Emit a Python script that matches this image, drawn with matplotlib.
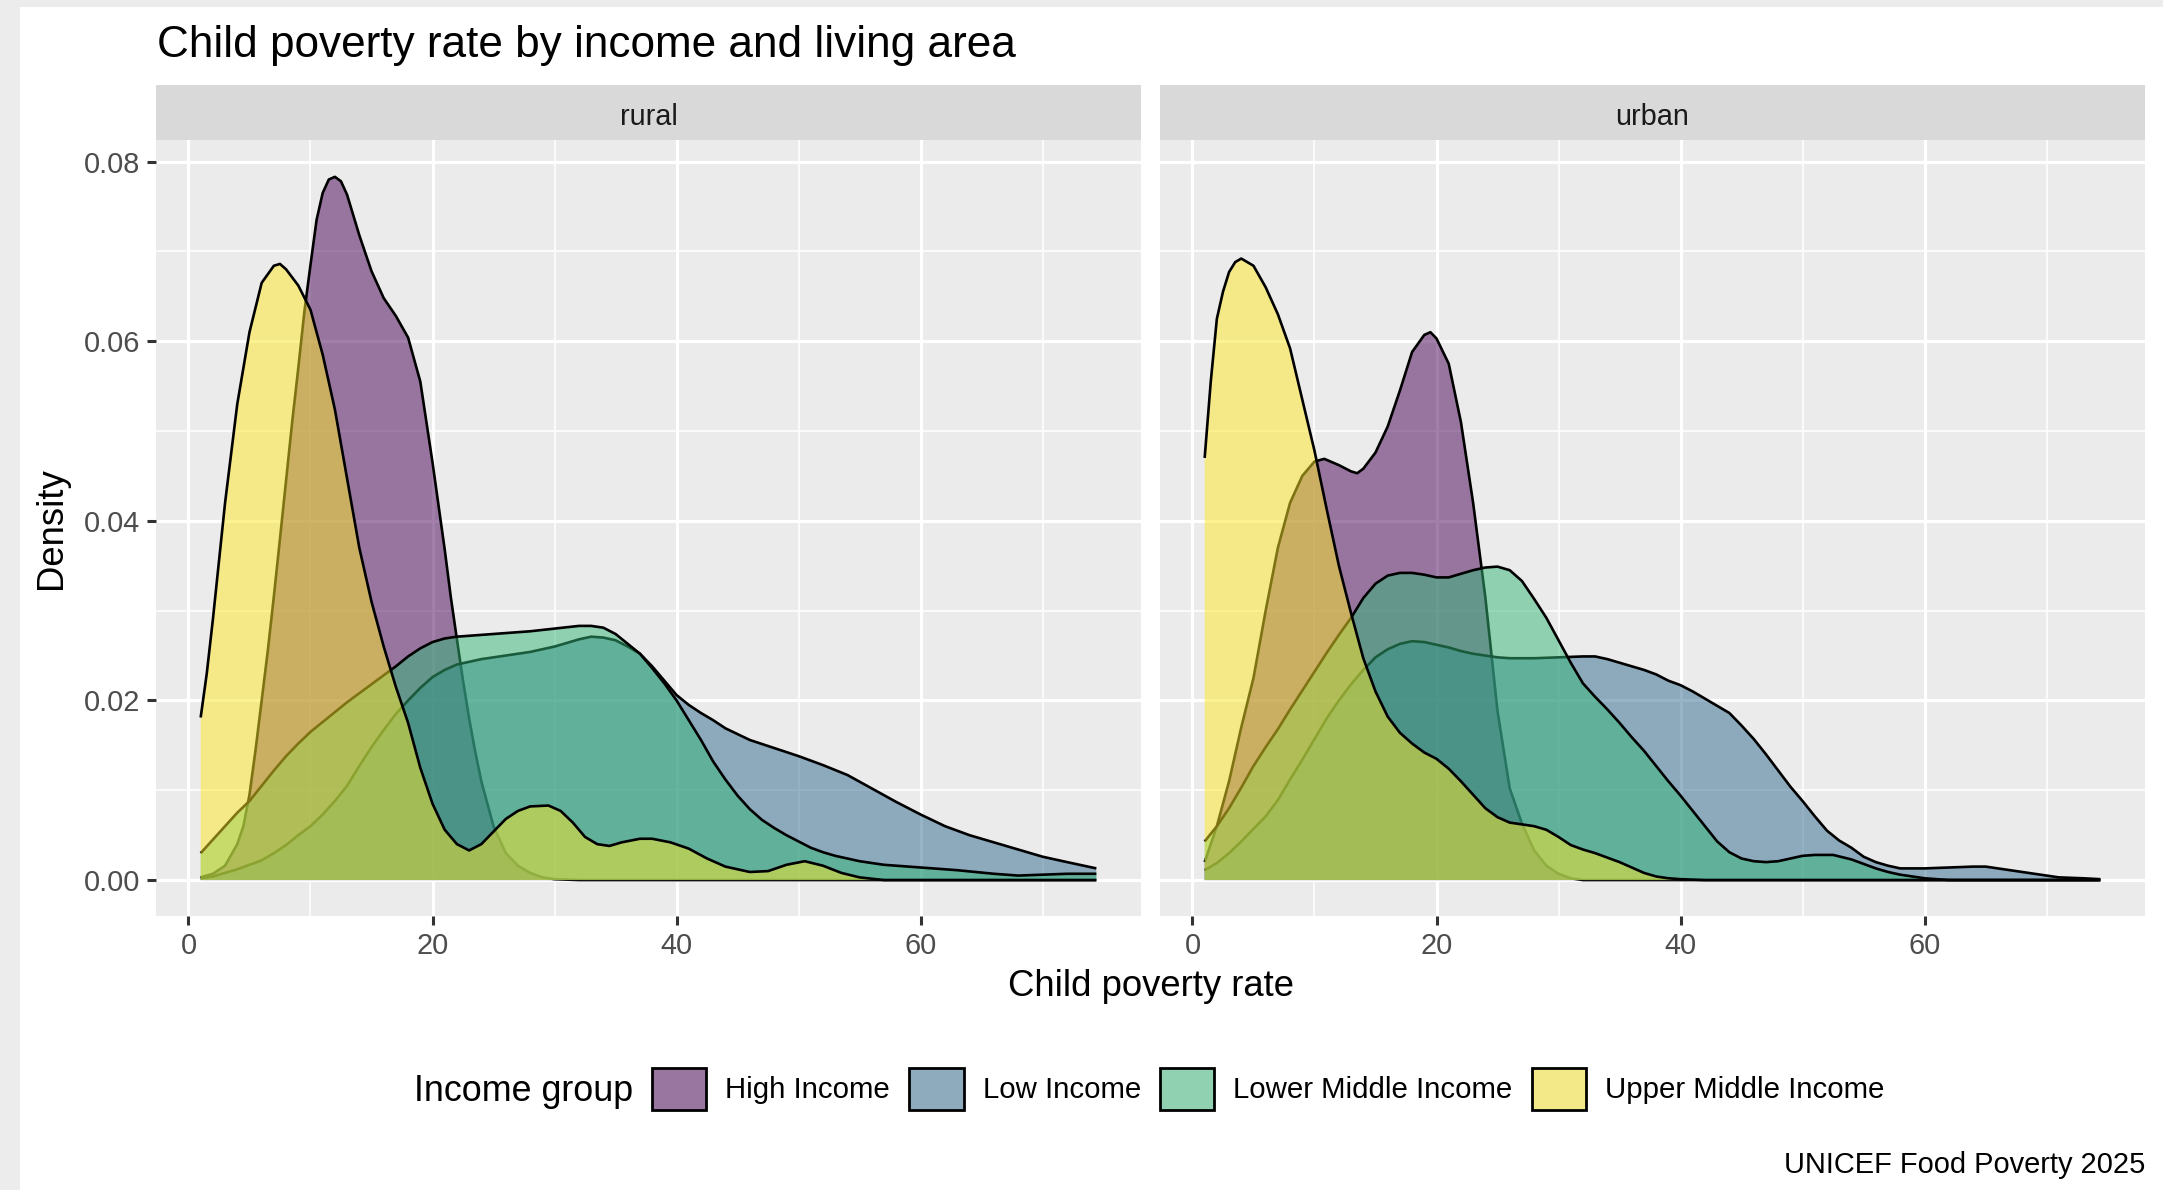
import numpy as np
import matplotlib
matplotlib.use('Agg')
import matplotlib.pyplot as plt
from matplotlib.patches import Patch, Rectangle
import matplotlib.colors as mcolors

plt.rcParams['font.family'] = ['Liberation Sans', 'DejaVu Sans']

# ---------------- data (density values) ----------------
groups = ['High Income', 'Low Income', 'Lower Middle Income', 'Upper Middle Income']
areas = ['rural', 'urban']
colors = ['#440154', '#31688E', '#35B779', '#FDE725']

rural_high_x = [1, 2, 3, 4, 4.5, 5, 5.5, 6, 6.5, 7, 7.5, 8, 8.5, 9, 9.5, 10, 10.5, 11, 11.5, 12,
                12.5, 13, 14, 15, 16, 17, 18, 19, 20, 21, 21.5, 22, 22.5, 23, 23.5, 24, 25, 26,
                27, 28, 29, 30, 32, 74.4]
rural_high_y = [0.0003, 0.0007, 0.0016, 0.0040, 0.006, 0.0095, 0.0145, 0.020, 0.0255, 0.0316,
                0.038, 0.0445, 0.051, 0.057, 0.0633, 0.0685, 0.0735, 0.0765, 0.078, 0.0783,
                0.0778, 0.0763, 0.0718, 0.0678, 0.0648, 0.0628, 0.0604, 0.0555, 0.0465, 0.0368,
                0.0315, 0.0268, 0.0222, 0.018, 0.0143, 0.011, 0.006, 0.003, 0.0016, 0.0008,
                0.0003, 0.0001, 0.0, 0.0]

rural_low_x = [1, 2, 3, 4, 5, 6, 7, 8, 9, 10, 11, 12, 13, 14, 15, 16, 17, 18, 19, 20, 21, 22,
               24, 26, 28, 30, 32, 33, 34, 35, 36, 37, 38, 39, 40, 41, 42, 43, 44, 46, 48, 50,
               52, 54, 56, 58, 60, 62, 64, 66, 68, 70, 72, 74.4]
rural_low_y = [0.0002, 0.0004, 0.0008, 0.0012, 0.0017, 0.0022, 0.003, 0.0039, 0.005, 0.006,
               0.0073, 0.0088, 0.0105, 0.0127, 0.0148, 0.0167, 0.0185, 0.020, 0.0214, 0.0226,
               0.0234, 0.024, 0.0246, 0.025, 0.0254, 0.026, 0.0268, 0.0271, 0.027, 0.0267,
               0.026, 0.0252, 0.0238, 0.0222, 0.0206, 0.0195, 0.0186, 0.0178, 0.0169, 0.0156,
               0.0147, 0.0138, 0.0128, 0.0117, 0.0102, 0.0087, 0.0073, 0.006, 0.005, 0.0042,
               0.0034, 0.0026, 0.002, 0.0013]

rural_lmid_x = [1, 2, 3, 4, 5, 6, 7, 8, 9, 10, 11, 12, 13, 14, 15, 16, 17, 18, 19, 20, 21, 22,
                24, 26, 28, 30, 32, 33, 34, 35, 36, 37, 38, 39, 40, 41, 42, 43, 44, 45, 46, 47,
                48, 49, 50, 51, 52, 53, 55, 57, 60, 63, 66, 68, 70, 72, 74.4]
rural_lmid_y = [0.003, 0.0045, 0.006, 0.0075, 0.0088, 0.0105, 0.0122, 0.0138, 0.0152, 0.0165,
                0.0176, 0.0187, 0.0198, 0.0208, 0.0218, 0.0228, 0.0238, 0.0249, 0.0258, 0.0265,
                0.0269, 0.0271, 0.0273, 0.0275, 0.0277, 0.028, 0.0283, 0.0283, 0.0281, 0.0274,
                0.0263, 0.0252, 0.0236, 0.0219, 0.0200, 0.0178, 0.0156, 0.0132, 0.0112, 0.0094,
                0.0079, 0.0067, 0.0058, 0.0050, 0.0043, 0.0036, 0.0031, 0.0027, 0.0021, 0.0017,
                0.0014, 0.0011, 0.0007, 0.0005, 0.0006, 0.0007, 0.0007]

rural_umid_x = [1, 1.5, 2, 3, 4, 5, 6, 7, 7.5, 8, 9, 10, 11, 12, 13, 14, 15, 16, 17, 18, 19, 20,
                21, 22, 23, 24, 25, 26, 27, 28, 29.5, 30.5, 31.5, 32.5, 33.5, 34.5, 35.5, 37,
                38, 39.5, 41, 42.5, 44, 46, 47.5, 49, 50.5, 52, 53.5, 55, 57, 74.4]
rural_umid_y = [0.0181, 0.023, 0.029, 0.042, 0.053, 0.061, 0.0665, 0.0684, 0.0686, 0.068,
                0.0662, 0.0635, 0.0585, 0.0524, 0.0447, 0.037, 0.031, 0.026, 0.0215, 0.0175,
                0.0125, 0.0085, 0.0056, 0.0040, 0.0033, 0.0040, 0.0054, 0.0068, 0.0077, 0.0082,
                0.0083, 0.0077, 0.0064, 0.0048, 0.0040, 0.0038, 0.0042, 0.0046, 0.0046, 0.0042,
                0.0035, 0.0024, 0.0015, 0.0009, 0.0010, 0.0017, 0.0021, 0.0016, 0.0008, 0.0003,
                0.0, 0.0]

urban_high_x = [1, 2, 3, 4, 5, 6, 7, 8, 9, 10, 10.8, 12, 13, 13.5, 14, 15, 16, 17, 18, 19, 19.5,
                20, 21, 22, 23, 24, 25, 26, 27, 28, 29, 30, 31, 32, 74.4]
urban_high_y = [0.002, 0.006, 0.011, 0.017, 0.0225, 0.030, 0.037, 0.042, 0.045, 0.0466, 0.0469,
                0.0462, 0.0455, 0.0453, 0.0458, 0.0476, 0.0505, 0.0545, 0.0588, 0.0607, 0.061,
                0.0603, 0.0575, 0.051, 0.042, 0.0315, 0.0188, 0.0102, 0.0063, 0.0033, 0.0016,
                0.0007, 0.0002, 0.0, 0.0]

urban_low_x = [1, 2, 3, 4, 5, 6, 7, 8, 9, 10, 11, 12, 13, 14, 15, 16, 17, 18, 19, 20, 21, 22, 23,
               24, 25, 26, 28, 30, 32, 33, 34, 35, 36, 37, 38, 39, 40, 41, 42, 43, 44, 45, 46,
               47, 48, 49, 50, 51, 52, 53, 54, 55, 56, 57, 58, 60, 62, 64, 65, 67, 69, 71, 73,
               74.4]
urban_low_y = [0.0011, 0.0019, 0.003, 0.0043, 0.0057, 0.0071, 0.0089, 0.0112, 0.0134, 0.0157,
               0.018, 0.020, 0.0218, 0.0234, 0.0248, 0.0257, 0.0263, 0.0266, 0.0265, 0.0262,
               0.0259, 0.0255, 0.0252, 0.025, 0.0248, 0.0247, 0.0247, 0.0248, 0.0249, 0.0249,
               0.0246, 0.0242, 0.0238, 0.0234, 0.0229, 0.0222, 0.0217, 0.0210, 0.0202, 0.0194,
               0.0186, 0.0172, 0.0157, 0.014, 0.0122, 0.0104, 0.0088, 0.0071, 0.0055, 0.0044,
               0.0036, 0.0026, 0.002, 0.0016, 0.0013, 0.0013, 0.0014, 0.0015, 0.0015, 0.0011,
               0.0007, 0.0003, 0.0002, 0.0001]

urban_lmid_x = [1, 2, 3, 4, 5, 6, 7, 8, 9, 10, 11, 12, 13, 14, 15, 16, 17, 18, 19, 20, 21, 22,
                23, 24, 25, 26, 27, 28, 29, 30, 31, 32, 33, 34, 35, 36, 37, 38, 39, 40, 41, 42,
                43, 44, 45, 46, 47, 48, 49, 50, 51, 52.5, 54, 55, 56, 57, 58, 59, 60, 61, 62,
                74.4]
urban_lmid_y = [0.0043, 0.006, 0.008, 0.0103, 0.0127, 0.0148, 0.0168, 0.019, 0.0211, 0.0232,
                0.0253, 0.0273, 0.0292, 0.0314, 0.033, 0.0339, 0.0342, 0.0342, 0.034, 0.0337,
                0.0337, 0.0341, 0.0345, 0.0348, 0.0349, 0.0345, 0.0333, 0.0313, 0.0292, 0.0267,
                0.0242, 0.0219, 0.0204, 0.019, 0.0175, 0.0159, 0.0144, 0.0127, 0.011, 0.0094,
                0.0077, 0.006, 0.0043, 0.0031, 0.0024, 0.0021, 0.002, 0.0021, 0.0024, 0.0027,
                0.0028, 0.0028, 0.0023, 0.0018, 0.0013, 0.0009, 0.0006, 0.0004, 0.0002, 0.0001,
                0.0, 0.0]

urban_umid_x = [1, 1.5, 2, 2.5, 3, 3.5, 4, 5, 6, 7, 8, 9, 10, 11, 12, 13, 14, 15, 16, 17, 18,
                19, 20, 21, 22, 23, 24, 25, 26, 27, 28, 29, 30, 31, 32, 33, 34, 35, 36, 37, 38,
                39, 40, 42, 74.4]
urban_umid_y = [0.047, 0.0555, 0.0625, 0.0655, 0.0677, 0.0688, 0.0692, 0.0684, 0.066, 0.063,
                0.0592, 0.0535, 0.0478, 0.0413, 0.035, 0.0297, 0.0247, 0.021, 0.0182, 0.0164,
                0.0152, 0.0142, 0.0135, 0.0124, 0.011, 0.0095, 0.008, 0.007, 0.0064, 0.0062,
                0.006, 0.0056, 0.0048, 0.0039, 0.0034, 0.003, 0.0025, 0.002, 0.0014, 0.0008,
                0.0004, 0.0002, 0.0001, 0.0, 0.0]

x_ticks = [0, 20, 40, 60]
y_ticks = [0.00, 0.02, 0.04, 0.06, 0.08]

series = {
    'rural': [(rural_high_x, rural_high_y), (rural_low_x, rural_low_y),
              (rural_lmid_x, rural_lmid_y), (rural_umid_x, rural_umid_y)],
    'urban': [(urban_high_x, urban_high_y), (urban_low_x, urban_low_y),
              (urban_lmid_x, urban_lmid_y), (urban_umid_x, urban_umid_y)],
}

# ---------------- layout ----------------
W, H = 2163, 1190
fig = plt.figure(figsize=(W / 100, H / 100), dpi=100)
fig.patch.set_facecolor('#ececec')
fig.patches.append(Rectangle((20 / W, 0), 1, 1 - 7 / H, transform=fig.transFigure,
                             facecolor='white', edgecolor='none', zorder=-10))

panel_top, panel_bot = 140, 916
strip_top = 85
panels = {'rural': (156, 1141), 'urban': (1160, 2145)}
ALPHA = 0.5
LINE_W = 1.9

for area in areas:
    l, r = panels[area]
    ax = fig.add_axes([l / W, 1 - panel_bot / H, (r - l) / W, (panel_bot - panel_top) / H])
    ax.set_facecolor('#ebebeb')
    for sp in ax.spines.values():
        sp.set_visible(False)
    ax.set_xlim(-2.66, 78.06)
    ax.set_ylim(-0.0040, 0.0824)
    ax.set_xticks(x_ticks)
    ax.set_xticks([10, 30, 50, 70], minor=True)
    ax.set_yticks(y_ticks)
    ax.set_yticks([0.01, 0.03, 0.05, 0.07], minor=True)
    ax.set_xticklabels([str(t) for t in x_ticks])
    ax.set_yticklabels([f'{t:.2f}' for t in y_ticks])
    ax.grid(which='major', color='white', linewidth=2.3, zorder=0.5)
    ax.grid(which='minor', color='white', linewidth=1.15, zorder=0.5)
    ax.set_axisbelow(True)
    ax.tick_params(which='major', length=6.5, width=2.2, color='#333333',
                   labelcolor='#4d4d4d', labelsize=20.8, pad=5)
    ax.tick_params(which='minor', length=0)
    if area == 'urban':
        ax.tick_params(axis='y', which='both', left=False, labelleft=False)

    for i, ((xs, ys), col) in enumerate(zip(series[area], colors)):
        xs = np.asarray(xs)
        ys = np.asarray(ys)
        ax.fill_between(xs, 0, ys, facecolor=col, alpha=ALPHA, linewidth=0, zorder=2 + 2 * i)
        ax.plot(xs, ys, color='black', linewidth=LINE_W, zorder=2.5 + 2 * i,
                solid_joinstyle='round', solid_capstyle='butt')

    # facet strip
    sax = fig.add_axes([l / W, 1 - panel_top / H, (r - l) / W, (panel_top - strip_top) / H])
    sax.set_facecolor('#d9d9d9')
    sax.set_xticks([])
    sax.set_yticks([])
    for sp in sax.spines.values():
        sp.set_visible(False)
    fig.text((l + r) / 2 / W, 1 - 125 / H, area, ha='center', va='baseline',
             fontsize=20.8, color='#1a1a1a')

# titles
fig.text(157 / W, 1 - 57 / H, 'Child poverty rate by income and living area',
         ha='left', va='baseline', fontsize=31.8, color='black')
fig.text(1150.5 / W, 1 - 996 / H, 'Child poverty rate', ha='center', va='baseline',
         fontsize=26.3, color='black')
fig.text(52 / W, 1 - (panel_top + panel_bot) / 2 / H, 'Density', ha='center', va='center',
         rotation=90, fontsize=26.3, color='black')
fig.text(2145 / W, 1 - 1173 / H, 'UNICEF Food Poverty 2025', ha='right', va='baseline',
         fontsize=20.9, color='black')

# legend
fig.text(414 / W, 1 - 1101 / H, 'Income group', ha='left', va='baseline', fontsize=25.8,
         color='black')
bg = np.array(mcolors.to_rgb('#ebebeb'))
handles = []
for g, col in zip(groups, colors):
    c = np.array(mcolors.to_rgb(col))
    blended = ALPHA * c + (1 - ALPHA) * bg
    handles.append(Patch(facecolor=blended, edgecolor='black', linewidth=2.0, label=g))
fig.legend(handles=handles, loc='center left', bbox_to_anchor=(652 / W, 1 - 1089 / H),
           ncol=4, frameon=False, fontsize=21.2, handlelength=1.85, handleheight=1.8,
           handletextpad=0.64, columnspacing=0.65, borderpad=0, borderaxespad=0)

fig.savefig('out.png', dpi=100, facecolor=fig.get_facecolor())
